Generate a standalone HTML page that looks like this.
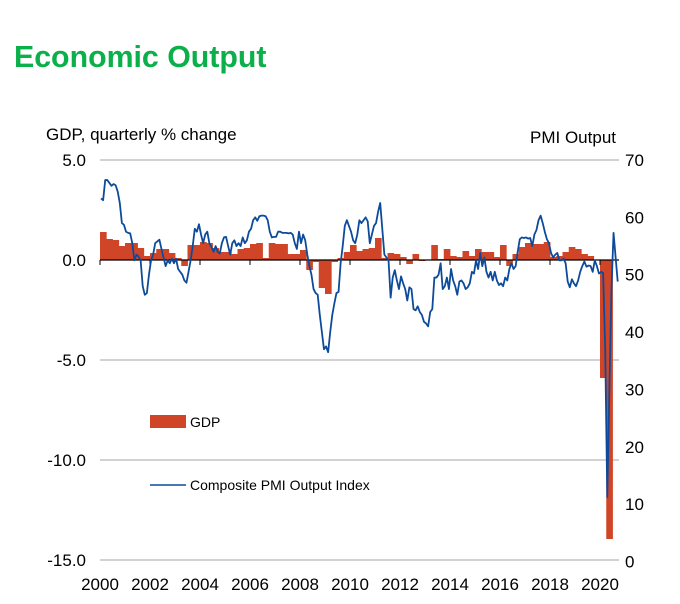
<!DOCTYPE html>
<html><head><meta charset="utf-8">
<style>
body{margin:0;background:#fff;width:680px;height:604px;overflow:hidden;font-family:"Liberation Sans",sans-serif;}
svg{display:block}
</style></head>
<body>
<svg id="chart" width="680" height="604">
<text x="14" y="67" font-size="30.3" font-weight="bold" fill="#0cb04a">Economic Output</text>
<text x="46" y="140" font-size="17" fill="#000">GDP, quarterly % change</text>
<text x="616" y="143" font-size="17" fill="#000" text-anchor="end">PMI Output</text>
<g id="grid"></g><g id="bars"></g><g id="axes"></g><g id="line"></g>
<g>
<rect x="150" y="415" width="36" height="13" fill="#d04527"/>
<text x="190" y="427" font-size="14">GDP</text>
<line x1="150" y1="485" x2="186" y2="485" stroke="#0d4b9a" stroke-width="1.5"/>
<text x="190" y="490" font-size="14">Composite PMI Output Index</text>
</g>
</svg>
<script>
const gdpValues=[1.4,1.05,1.0,0.7, 0.85,0.85,0.6,0.2, 0.35,0.55,0.55,0.35, 0.1,-0.3,0.75,0.75, 0.9,0.85,0.6,0.4, 0.4,0.3,0.55,0.6, 0.8,0.85,0.1,0.85, 0.8,0.8,0.3,0.3, 0.5,-0.5,-0.1,-1.4, -1.7,-0.1,0.1,0.4, 0.75,0.45,0.55,0.6, 1.1,0.1,0.35,0.3, 0.15,-0.2,0.3,-0.05, 0.0,0.75,0.05,0.55, 0.2,0.15,0.45,0.2, 0.55,0.4,0.4,0.15, 0.75,-0.3,0.3,0.65, 0.85,0.8,0.8,0.9, 0.15,0.2,0.4,0.65, 0.55,0.3,0.2,0.0, -5.9,-13.95];
const pmiValues=[63.3,63.0,66.5,66.5,66,65.5,65.8,65.6,64.5,62.5,59,58.7,
57.5,57.3,57.2,55.5,52.5,53.5,53.2,52.5,48,46.5,46.8,50,
52.5,53.5,55.5,55.8,56.1,54.5,53,51.5,52.5,52,52.8,52,
52.8,51,50.5,50,49,48.6,50.5,52.5,55,58,57.5,58.8,
57,55.5,57,57.5,55.5,54.8,54,55,54,53.7,55.5,56.5,
56.6,55,53.5,55.5,56,55,55.5,55,56.5,55.5,56,57.5,
58,59.5,60,59.4,60.2,60.3,60.3,60.2,59.5,57.5,56.5,56.6,
56.6,57.5,57.5,57.3,57.3,57.3,57.2,57.3,57.0,55.5,54.5,57.5,
55.5,57,56,53.5,51.5,50,47.5,46.8,46.5,43,40,37,
37.5,36.5,40,43,45,46.8,47,52,55,58.5,59.5,58.5,
57.5,56,55.5,57,59.5,59,59.5,60,59.3,55.5,57,58.5,
59,61,62.5,58,53.5,53,52.5,46,49.5,50.8,49,47.5,
49.7,48.5,47.5,45.5,47.8,47.5,44,43.8,44.5,43.5,43,41.8,
41.5,41,43.5,44,49.5,49.5,50,52,47.5,48,49.5,47.5,
51,49,48,46.5,48.8,49,48.5,47.5,47.8,48.5,50.5,50.2,
52.5,51,53.8,51.5,53,50.5,49.5,50.5,49,50.5,49,48.2,
48.5,48,49.5,49,51,52,51,51.5,54,56.2,56.5,56.4,
56.5,56.3,56.4,55,57,57.8,59.5,60.3,59,57.5,56.2,55.5,
53.8,53,53.5,53.8,52.5,52.5,52.8,52,48.8,47.8,49.2,48.5,
48,49,50.5,51.5,52.3,51.4,51.6,51.5,50.5,52.5,51.5,50.2,
50.5,50.3,37,11.2,30,47.5,57.3,53,48.8];
const leftTicks=[5,0,-5,-10,-15];
const leftTickLabels=["5.0","0.0","-5.0","-10.0","-15.0"];
const rightTicks=[70,60,50,40,30,20,10,0];
const yearTicks=[2000,2002,2004,2006,2008,2010,2012,2014,2016,2018,2020];

const NS="http://www.w3.org/2000/svg";
const X0=100,PX_YEAR=25;
const xYear=y=>X0+(y-2000)*PX_YEAR;
const yL=v=>260-v*20;
const yR=v=>561.5-v*(401.5/70);
function mk(tag,attrs,parent,txt){const e=document.createElementNS(NS,tag);for(const k in attrs)e.setAttribute(k,attrs[k]);if(txt!==undefined)e.textContent=txt;document.getElementById(parent).appendChild(e);return e;}

leftTicks.forEach((t,i)=>{
  if(t!==0){const g=mk('line',{x1:100,x2:619,y1:yL(t),y2:yL(t),stroke:'#a6a6a6','stroke-width':1},'grid');
  
  }
  const lb=mk('text',{x:86,y:yL(t)+6,'font-size':17,'text-anchor':'end'},'axes',leftTickLabels[i]);
  
  
});
rightTicks.forEach(t=>{
  const lb=mk('text',{x:625,y:yR(t)+6,'font-size':17},'axes',String(t));
  
  
});
gdpValues.forEach((v,i)=>{
  const x=xYear(2000+i/4);
  const y=Math.min(yL(v),yL(0)), h=Math.abs(yL(v)-yL(0));
  const r=mk('rect',{x:x,y:y,width:PX_YEAR/4+0.4,height:Math.max(h,0.5),fill:'#d04527'},'bars');
  
  
});
const z=mk('line',{x1:100,x2:619,y1:yL(0),y2:yL(0),stroke:'#000','stroke-width':1.3},'axes');


yearTicks.forEach(yr=>{
  const x=xYear(yr);
  const t=mk('line',{x1:x,x2:x,y1:yL(0),y2:yL(0)+5,stroke:'#000','stroke-width':1},'axes');
  
  
  const lb=mk('text',{x:x,y:590,'font-size':17,'text-anchor':'middle'},'axes',String(yr));
  
  
});
const pts=pmiValues.map((v,i)=>xYear(2000+(i+0.5)/12).toFixed(2)+','+yR(v).toFixed(2)).join(' ');
const pl=mk('polyline',{points:pts,fill:'none',stroke:'#0d4b9a','stroke-width':1.8,'stroke-linejoin':'round'},'line');


</script>
</body></html>
